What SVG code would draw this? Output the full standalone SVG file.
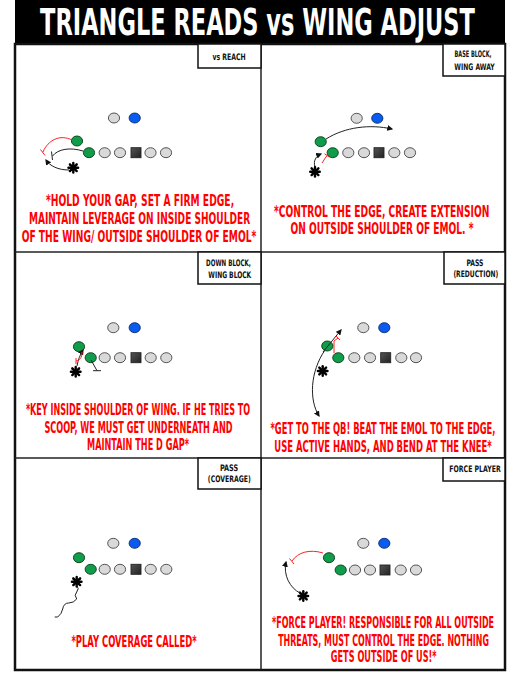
<svg xmlns="http://www.w3.org/2000/svg" width="515" height="677" viewBox="0 0 515 677">
<defs>
<marker id="ah" viewBox="0 0 10 10" refX="8" refY="5" markerWidth="6" markerHeight="6" orient="auto-start-reverse" markerUnits="userSpaceOnUse">
<path d="M0,0 L10,5 L0,10 Z" fill="#111"/>
</marker>
<linearGradient id="sq" x1="0" y1="0" x2="1" y2="1">
<stop offset="0" stop-color="#555"/><stop offset="1" stop-color="#222"/>
</linearGradient>
<g id="ast">
<line x1="-4.8" y1="0" x2="4.8" y2="0"/>
<line x1="0" y1="-4.8" x2="0" y2="4.8"/>
<line x1="-3.4" y1="-3.4" x2="3.4" y2="3.4"/>
<line x1="-3.4" y1="3.4" x2="3.4" y2="-3.4"/>
</g>
</defs>
<style>
.title{font-family:"DejaVu Sans Condensed","Liberation Sans Narrow","Liberation Sans",sans-serif;font-weight:bold;font-size:38px;fill:#fff;text-anchor:middle}
.lbl{font-family:"DejaVu Sans Condensed","Liberation Sans Narrow","Liberation Sans",sans-serif;font-weight:bold;font-size:9px;fill:#111;text-anchor:middle}
.note{font-family:"DejaVu Sans Condensed","Liberation Sans Narrow","Liberation Sans",sans-serif;font-weight:bold;font-size:15px;fill:#ff0000;text-anchor:middle}
.box{fill:#fff;stroke:#111;stroke-width:1.5}
.gr{fill:#d9d9d9;stroke:#444;stroke-width:0.9}
.gn{fill:#0f9d4a;stroke:#0b3a1c;stroke-width:0.9}
.bl{fill:#0a5cf0;stroke:#0a2a66;stroke-width:0.9}
.sqr{fill:url(#sq);stroke:#222;stroke-width:0.9}
.ast{stroke:#000;stroke-width:2.4;stroke-linecap:round}
.blk{fill:none;stroke:#222;stroke-width:1}
.red{fill:none;stroke:#ff2020;stroke-width:1}
.div{stroke:#222;stroke-width:1.5}
</style>

<g id="header">
<rect x="15" y="0" width="490" height="44" fill="#000"/>
<text class="title" transform="translate(257.5,35) scale(0.72,1)" textLength="604" lengthAdjust="spacingAndGlyphs">TRIANGLE READS vs WING ADJUST</text>
</g>

<g id="frame">
<rect x="15" y="44" width="490" height="626" fill="#fff" stroke="#111" stroke-width="2.5"/>
<line class="div" x1="261" y1="44" x2="261" y2="670"/>
<line class="div" x1="15" y1="252" x2="505" y2="252"/>
<line class="div" x1="15" y1="458" x2="505" y2="458"/>
</g>

<!-- Panel 1 -->
<g id="p1-label">
<rect class="box" x="198" y="44" width="63" height="24"/>
<text class="lbl" transform="translate(229,60) scale(0.65,1)" textLength="51" lengthAdjust="spacingAndGlyphs">vs REACH</text>
</g>
<g id="p1-players">
<ellipse class="gr" cx="114" cy="118" rx="5.6" ry="5"/>
<ellipse class="bl" cx="134.7" cy="118" rx="5.6" ry="5"/>
<ellipse class="gn" cx="77" cy="141" rx="5.6" ry="5"/>
<ellipse class="gn" cx="89" cy="152.7" rx="5.6" ry="5"/>
<ellipse class="gr" cx="104.7" cy="152.7" rx="5.6" ry="5"/>
<ellipse class="gr" cx="120" cy="152.7" rx="5.6" ry="5"/>
<rect class="sqr" x="131" y="147.7" width="10" height="10"/>
<ellipse class="gr" cx="150.5" cy="152.7" rx="5.6" ry="5"/>
<ellipse class="gr" cx="166" cy="152.7" rx="5.6" ry="5"/>
<use href="#ast" class="ast" x="73.3" y="167.7"/>
</g>
<g id="p1-note">
<text class="note" transform="translate(140,205.5) scale(0.75,1)" textLength="251" lengthAdjust="spacingAndGlyphs">*HOLD YOUR GAP, SET A FIRM EDGE,</text>
<text class="note" transform="translate(139.5,224) scale(0.75,1)" textLength="295" lengthAdjust="spacingAndGlyphs">MAINTAIN LEVERAGE ON INSIDE SHOULDER</text>
<text class="note" transform="translate(139,242) scale(0.75,1)" textLength="313" lengthAdjust="spacingAndGlyphs">OF THE WING/ OUTSIDE SHOULDER OF EMOL*</text>
</g>

<!-- Panel 2 -->
<g id="p2-label">
<rect class="box" x="443" y="44" width="62" height="32"/>
<text class="lbl" transform="translate(473,56.5) scale(0.65,1)" textLength="57" lengthAdjust="spacingAndGlyphs">BASE BLOCK,</text>
<text class="lbl" transform="translate(474.5,70) scale(0.65,1)" textLength="62" lengthAdjust="spacingAndGlyphs">WING AWAY</text>
</g>
<g id="p2-players">
<ellipse class="gr" cx="356.7" cy="118.3" rx="5.6" ry="5"/>
<ellipse class="bl" cx="377.3" cy="118.3" rx="5.6" ry="5"/>
<ellipse class="gn" cx="320.7" cy="141.7" rx="5.6" ry="5"/>
<ellipse class="gn" cx="332.7" cy="152.7" rx="5.6" ry="5"/>
<ellipse class="gr" cx="348.3" cy="152.7" rx="5.6" ry="5"/>
<ellipse class="gr" cx="364" cy="152.7" rx="5.6" ry="5"/>
<rect class="sqr" x="374" y="147.7" width="10" height="10"/>
<ellipse class="gr" cx="394.3" cy="152.7" rx="5.6" ry="5"/>
<ellipse class="gr" cx="410" cy="152.7" rx="5.6" ry="5"/>
<use href="#ast" class="ast" x="315" y="171.7"/>
</g>
<g id="p2-note">
<text class="note" transform="translate(381.7,216.5) scale(0.75,1)" textLength="287" lengthAdjust="spacingAndGlyphs">*CONTROL THE EDGE, CREATE EXTENSION</text>
<text class="note" transform="translate(382,234.3) scale(0.75,1)" textLength="244" lengthAdjust="spacingAndGlyphs">ON OUTSIDE SHOULDER OF EMOL. *</text>
</g>

<!-- Panel 3 -->
<g id="p3-label">
<rect class="box" x="198" y="252" width="63" height="32"/>
<text class="lbl" transform="translate(228.5,266) scale(0.65,1)" textLength="69" lengthAdjust="spacingAndGlyphs">DOWN BLOCK,</text>
<text class="lbl" transform="translate(229.8,277.7) scale(0.65,1)" textLength="66" lengthAdjust="spacingAndGlyphs">WING BLOCK</text>
</g>
<g id="p3-players">
<ellipse class="gr" cx="113.3" cy="327.7" rx="5.6" ry="5"/>
<ellipse class="bl" cx="134.7" cy="327.7" rx="5.6" ry="5"/>
<ellipse class="gn" cx="79" cy="346.7" rx="5.6" ry="5"/>
<ellipse class="gn" cx="90.7" cy="357.7" rx="5.6" ry="5"/>
<ellipse class="gr" cx="104.7" cy="357.7" rx="5.6" ry="5"/>
<ellipse class="gr" cx="120" cy="357.7" rx="5.6" ry="5"/>
<rect class="sqr" x="131" y="352.7" width="10" height="10"/>
<ellipse class="gr" cx="150.7" cy="357.7" rx="5.6" ry="5"/>
<ellipse class="gr" cx="166.3" cy="357.7" rx="5.6" ry="5"/>
<use href="#ast" class="ast" x="75.7" y="371.7"/>
</g>
<g id="p3-note">
<text class="note" transform="translate(138,415) scale(0.75,1)" textLength="299" lengthAdjust="spacingAndGlyphs">*KEY INSIDE SHOULDER OF WING. IF HE TRIES TO</text>
<text class="note" transform="translate(138.5,432.7) scale(0.75,1)" textLength="251" lengthAdjust="spacingAndGlyphs">SCOOP, WE MUST GET UNDERNEATH AND</text>
<text class="note" transform="translate(138,450.3) scale(0.75,1)" textLength="136" lengthAdjust="spacingAndGlyphs">MAINTAIN THE D GAP*</text>
</g>

<!-- Panel 4 -->
<g id="p4-label">
<rect class="box" x="444" y="252" width="61" height="32"/>
<text class="lbl" transform="translate(475,266) scale(0.65,1)" textLength="26" lengthAdjust="spacingAndGlyphs">PASS</text>
<text class="lbl" transform="translate(475.8,277) scale(0.65,1)" textLength="69" lengthAdjust="spacingAndGlyphs">(REDUCTION)</text>
</g>
<g id="p4-players">
<ellipse class="gr" cx="363.3" cy="327.7" rx="5.6" ry="5"/>
<ellipse class="bl" cx="384.3" cy="327.7" rx="5.6" ry="5"/>
<ellipse class="gn" cx="327.3" cy="346" rx="5.6" ry="5"/>
<ellipse class="gn" cx="338.3" cy="357.7" rx="5.6" ry="5"/>
<ellipse class="gr" cx="354.3" cy="357.7" rx="5.6" ry="5"/>
<ellipse class="gr" cx="370" cy="357.7" rx="5.6" ry="5"/>
<rect class="sqr" x="380.7" y="352.7" width="10" height="10"/>
<ellipse class="gr" cx="401.3" cy="357.7" rx="5.6" ry="5"/>
<ellipse class="gr" cx="416" cy="357.7" rx="5.6" ry="5"/>
<use href="#ast" class="ast" x="322.7" y="371"/>
</g>
<g id="p4-note">
<text class="note" transform="translate(383,434) scale(0.75,1)" textLength="300" lengthAdjust="spacingAndGlyphs">*GET TO THE QB! BEAT THE EMOL TO THE EDGE,</text>
<text class="note" transform="translate(383,451.7) scale(0.75,1)" textLength="290" lengthAdjust="spacingAndGlyphs">USE ACTIVE HANDS, AND BEND AT THE KNEE*</text>
</g>

<!-- Panel 5 -->
<g id="p5-label">
<rect class="box" x="198" y="458" width="63" height="31"/>
<text class="lbl" transform="translate(229,471) scale(0.65,1)" textLength="28" lengthAdjust="spacingAndGlyphs">PASS</text>
<text class="lbl" transform="translate(229.3,482) scale(0.65,1)" textLength="66" lengthAdjust="spacingAndGlyphs">(COVERAGE)</text>
</g>
<g id="p5-players">
<ellipse class="gr" cx="113.3" cy="543.3" rx="5.6" ry="5"/>
<ellipse class="bl" cx="134.7" cy="543.3" rx="5.6" ry="5"/>
<ellipse class="gn" cx="79" cy="557.7" rx="5.6" ry="5"/>
<ellipse class="gn" cx="90.7" cy="569.3" rx="5.6" ry="5"/>
<ellipse class="gr" cx="104.7" cy="569.3" rx="5.6" ry="5"/>
<ellipse class="gr" cx="120" cy="569.3" rx="5.6" ry="5"/>
<rect class="sqr" x="131" y="564.3" width="10" height="10"/>
<ellipse class="gr" cx="150.7" cy="569.3" rx="5.6" ry="5"/>
<ellipse class="gr" cx="166.3" cy="569.3" rx="5.6" ry="5"/>
<use href="#ast" class="ast" x="76.7" y="581.7"/>
</g>
<g id="p5-note">
<text class="note" transform="translate(134,647.3) scale(0.75,1)" textLength="167" lengthAdjust="spacingAndGlyphs">*PLAY COVERAGE CALLED*</text>
</g>

<!-- Panel 6 -->
<g id="p6-label">
<rect class="box" x="443" y="458" width="62" height="23"/>
<text class="lbl" transform="translate(475,472.3) scale(0.65,1)" textLength="79" lengthAdjust="spacingAndGlyphs">FORCE PLAYER</text>
</g>
<g id="p6-players">
<ellipse class="gr" cx="363.3" cy="543.3" rx="5.6" ry="5"/>
<ellipse class="bl" cx="384.3" cy="543.3" rx="5.6" ry="5"/>
<ellipse class="gn" cx="329" cy="557.7" rx="5.6" ry="5"/>
<ellipse class="gn" cx="340.7" cy="570" rx="5.6" ry="5"/>
<ellipse class="gr" cx="355" cy="570" rx="5.6" ry="5"/>
<ellipse class="gr" cx="370" cy="570" rx="5.6" ry="5"/>
<rect class="sqr" x="380" y="565" width="10" height="10"/>
<ellipse class="gr" cx="400.7" cy="570" rx="5.6" ry="5"/>
<ellipse class="gr" cx="416" cy="570" rx="5.6" ry="5"/>
<use href="#ast" class="ast" x="303.3" y="596"/>
</g>
<g id="p6-note">
<text class="note" transform="translate(383,627.7) scale(0.75,1)" textLength="296" lengthAdjust="spacingAndGlyphs">*FORCE PLAYER! RESPONSIBLE FOR ALL OUTSIDE</text>
<text class="note" transform="translate(383.5,645.5) scale(0.75,1)" textLength="281" lengthAdjust="spacingAndGlyphs">THREATS, MUST CONTROL THE EDGE. NOTHING</text>
<text class="note" transform="translate(383.7,662.3) scale(0.75,1)" textLength="141" lengthAdjust="spacingAndGlyphs">GETS OUTSIDE OF US!*</text>
</g>

<g id="connectors">
<!-- panel 1 -->
<path class="red" d="M72,140 C60,134 48,140 43,152"/>
<line class="red" x1="40.5" y1="149.5" x2="45" y2="155.5"/>
<path class="blk" d="M83,151 C70,147 58,149 52.5,156"/>
<line class="blk" x1="51.5" y1="151.5" x2="52.5" y2="160"/>
<path class="blk" d="M69,170 C58,170 50,166 46,160" marker-end="url(#ah)"/>
<!-- panel 2 -->
<path class="blk" d="M326,139 C345,127 370,124 392,129" marker-end="url(#ah)"/>
<path class="blk" d="M315,167 C313,161 316,156 321,154" marker-end="url(#ah)"/>
<line class="red" x1="322" y1="163" x2="327" y2="155.5"/>
<line class="red" x1="324.5" y1="153.8" x2="329.5" y2="157"/>
<!-- panel 3 -->
<path class="blk" d="M77,366 C78,360 80,355 83,350" marker-end="url(#ah)"/>
<path class="red" d="M82,352 C82,358 80,360 76,361"/>
<line class="red" x1="76" y1="358" x2="76" y2="364"/>
<line class="blk" x1="91" y1="360" x2="97" y2="370.7"/>
<line class="blk" x1="93" y1="370.7" x2="101" y2="370.7"/>
<!-- panel 4 -->
<path class="blk" d="M323,352 L341,330" marker-end="url(#ah)"/>
<path class="blk" d="M325,350 C310,372 309,400 319,416" marker-end="url(#ah)"/>
<polyline class="red" points="334,353 334,341 338,338"/>
<line class="red" x1="336" y1="336" x2="340" y2="340"/>
<!-- panel 5 -->
<path class="blk" d="M76.7,585 q3,4 0,7 t0,7 q-3,4 -8,4 t-6,6 q-1,5 -5,8 l-3,0"/>
<!-- panel 6 -->
<path class="red" d="M323,553 C310,549 298,552 292,561"/>
<line class="red" x1="289.5" y1="558.5" x2="294" y2="564"/>
<path class="blk" d="M300,593 C290,588 283,575 286,562" marker-end="url(#ah)"/>
</g>
</svg>
